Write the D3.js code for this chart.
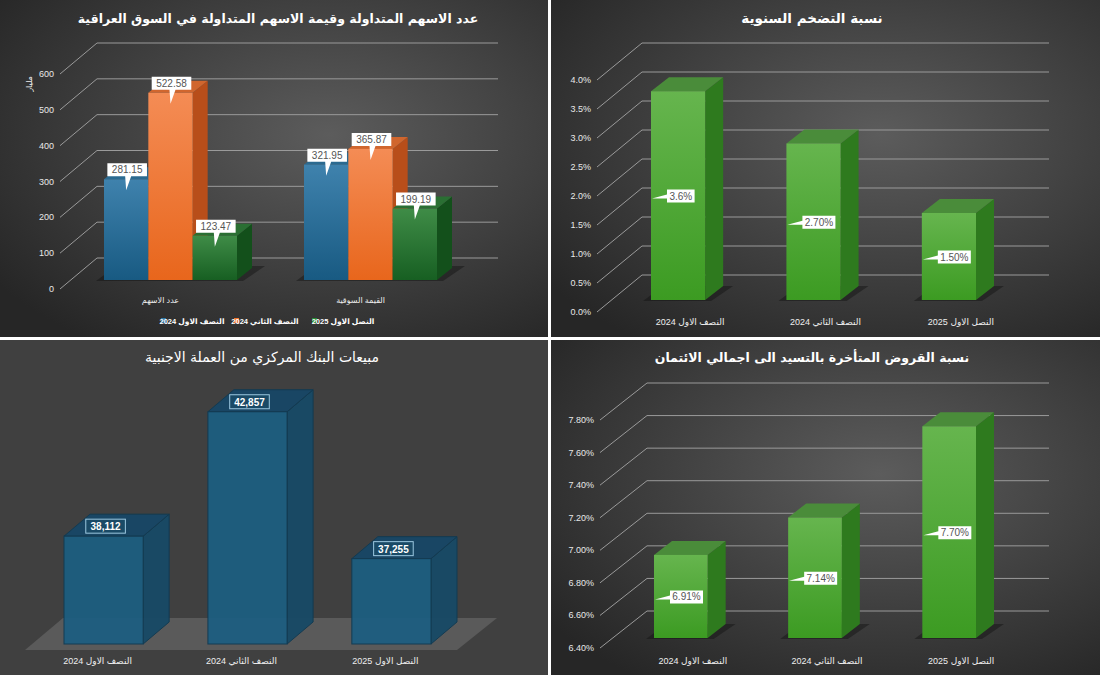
<!DOCTYPE html>
<html><head><meta charset="utf-8">
<script src="https://cdn.jsdelivr.net/npm/d3@7"></script>
<style>body{margin:0;background:#fff}svg{display:block}text{font-family:"Liberation Sans","DejaVu Sans",sans-serif}</style>
</head><body><svg id="c" width="1100" height="675"></svg>
<script>
// data
var cats=["النصف الاول 2024","النصف الثاني 2024","النصل الاول 2025"];
var stockGroups=["عدد الاسهم","القيمة السوقية"];
var stockH1_2024=[281.15,321.95];
var stockH2_2024=[522.58,365.87];
var stockH1_2025=[123.47,199.19];
var stockTicks=[0,100,200,300,400,500,600];
var inflation=[3.6,2.70,1.50];
var inflationLabels=["3.6%","2.70%","1.50%"];
var inflationTicks=[0,0.5,1,1.5,2,2.5,3,3.5,4];
var fxSales=[38112,42857,37255];
var loans=[6.91,7.14,7.70];
var loansTicks=[6.4,6.6,6.8,7.0,7.2,7.4,7.6,7.8];

var svg=d3.select("#c");
var defs=svg.append("defs");
var rg=defs.append("radialGradient").attr("id","bg").attr("cx","60%").attr("cy","40%").attr("r","75%");
rg.append("stop").attr("offset","0").attr("stop-color","#5c5c5c");
rg.append("stop").attr("offset","1").attr("stop-color","#262626");
function grad(id,a,b){var g=defs.append("linearGradient").attr("id",id).attr("x1",0).attr("x2",0).attr("y1",0).attr("y2",1);
 g.append("stop").attr("offset",0).attr("stop-color",a);g.append("stop").attr("offset",1).attr("stop-color",b);}
grad("gBlue","#3f82ad","#185a82");grad("gOrange","#f48c55","#e8661c");grad("gDGreen","#3f8c47","#175f22");grad("gGreen","#66b54e","#3c9b22");
var pal={blue:{f:"url(#gBlue)",s:"#1a4f70",t:"#2b6a90"},orange:{f:"url(#gOrange)",s:"#b84e1a",t:"#d0662e"},
 dgreen:{f:"url(#gDGreen)",s:"#13501b",t:"#2a6f33"},green:{f:"url(#gGreen)",s:"#2e7a1e",t:"#4a8c3a"}};

// panels
svg.append("rect").attr("x",0).attr("y",0).attr("width",548).attr("height",337).attr("fill","url(#bg)");
svg.append("rect").attr("x",551).attr("y",0).attr("width",549).attr("height",337).attr("fill","url(#bg)");
svg.append("rect").attr("x",0).attr("y",340).attr("width",548).attr("height",335).attr("fill","#404040");
svg.append("rect").attr("x",551).attr("y",340).attr("width",549).attr("height",335).attr("fill","url(#bg)");

function title(x,y,t,bold,size){svg.append("text").attr("x",x).attr("y",y).attr("text-anchor","middle").attr("direction","rtl")
 .attr("fill","#fff").attr("font-size",size).attr("font-weight",bold?"bold":"normal").style("font-family","DejaVu Sans").text(t);}

function backGrid(ticks,y,ax,dx,dy,right,fmt){
 ticks.forEach(function(v){var yy=y(v);
  svg.append("path").attr("d","M"+ax+","+yy+"L"+(ax+dx)+","+(yy+dy)+"L"+right+","+(yy+dy)).attr("fill","none").attr("stroke","#9a9a9a").attr("stroke-width",1);
  svg.append("text").attr("x",ax-6).attr("y",yy+3).attr("text-anchor","end").attr("fill","#e8e8e8").attr("font-size",9).text(fmt(v));});
}
function bar3d(x,w,yTop,yBase,dx,dy,c,stroke){
 var g=svg.append("g");
 g.append("path").attr("d","M"+(x+w)+","+yBase+"L"+(x+w+dx)+","+(yBase+dy)+"L"+(x+w+dx)+","+(yTop+dy)+"L"+(x+w)+","+yTop+"Z").attr("fill",c.s).attr("stroke",stroke||"none");
 g.append("path").attr("d","M"+x+","+yTop+"L"+(x+dx)+","+(yTop+dy)+"L"+(x+w+dx)+","+(yTop+dy)+"L"+(x+w)+","+yTop+"Z").attr("fill",c.t).attr("stroke",stroke||"none");
 g.append("rect").attr("x",x).attr("y",yTop).attr("width",w).attr("height",yBase-yTop).attr("fill",c.f).attr("stroke",stroke||"none");
 return g;
}
function shadow(x,w,y){svg.append("path").attr("d","M"+(x-8)+","+(y+1)+"L"+(x+w+6)+","+(y+1)+"L"+(x+w+28)+","+(y-14)+"L"+(x+12)+","+(y-14)+"Z").attr("fill","#111").attr("opacity",0.45);}
function catLabel(x,y,t,size){svg.append("text").attr("x",x).attr("y",y).attr("text-anchor","middle").attr("direction","rtl").attr("fill","#eee").attr("font-size",size||9).text(t);}
function calloutDown(cx,top,t){var w=t.length*5.6+6,h=13,bx=cx-w/2,by=top-16;
 svg.append("path").attr("d","M"+bx+","+by+"h"+w+"v"+h+"h"+(-w/2+4)+"l-5,"+14+"l-1,-14H"+bx+"Z").attr("fill","#fff");
 svg.append("text").attr("x",cx).attr("y",by+10).attr("text-anchor","middle").attr("fill","#555").attr("font-size",10).text(t);}
function calloutLeft(x,cy,t){var w=t.length*5.4+6,h=13,bx=x+16,by=cy-6;
 svg.append("path").attr("d","M"+bx+","+by+"h"+w+"v"+h+"h"+(-w)+"v-4L"+(x+1)+","+(cy+3)+"L"+bx+","+(cy-1)+"Z").attr("fill","#fff");
 svg.append("text").attr("x",bx+w/2).attr("y",by+10).attr("text-anchor","middle").attr("fill","#555").attr("font-size",10).text(t);}

// Panel 1
title(278,23,"عدد الاسهم المتداولة وقيمة الاسهم المتداولة في السوق العراقية",true,12.5);
var y1=d3.scaleLinear().domain([0,600]).range([289,74]);
backGrid(stockTicks,y1,60,37,-31,498,function(v){return v;});
svg.append("text").attr("transform","translate(32,84) rotate(-90)").attr("text-anchor","middle").attr("fill","#eee").attr("font-size",8).text("مليار");
var x1=d3.scaleBand().domain(stockGroups).range([104,437]).paddingInner(0.335).paddingOuter(0);
var series1=[stockH1_2024,stockH2_2024,stockH1_2025],cols1=[pal.blue,pal.orange,pal.dgreen];
stockGroups.forEach(function(gname,i){
 var gx=x1(gname),bw=x1.bandwidth()/3;shadow(gx,bw*3,280);
 series1.forEach(function(s,j){var bx=gx+j*bw;bar3d(bx,bw,y1(s[i])-9,280,15,-12,cols1[j]);});
 series1.forEach(function(s,j){var bx=gx+j*bw;calloutDown(bx+bw/2+1,y1(s[i])-9,s[i].toFixed(2));});
 catLabel(gx+bw*1.5-10,303,gname,8);
});
var leg=[{t:cats[0],c:"#2e78a8",x:192},{t:cats[1],c:"#ef7530",x:265},{t:cats[2],c:"#2a8a35",x:343}];
leg.forEach(function(l){svg.append("rect").attr("x",l.x-31).attr("y",318).attr("width",5).attr("height",5).attr("fill",l.c);
 svg.append("text").attr("x",l.x).attr("y",324).attr("text-anchor","middle").attr("direction","rtl").attr("fill","#fff").attr("font-size",7.5).attr("font-weight","bold").text(l.t);});

// Panel 2
title(812,23,"نسبة التضخم السنوية",true,13.5);
var y2=d3.scaleLinear().domain([0,4]).range([312,80]);
backGrid(inflationTicks,y2,597,45,-37,1049,function(v){return v.toFixed(1)+"%";});
var x2=d3.scaleBand().domain(cats).range([651,976]).paddingInner(0.6).paddingOuter(0);
cats.forEach(function(c,i){var bx=x2(c),bw=x2.bandwidth();shadow(bx,bw,300);
 bar3d(bx,bw,y2(inflation[i])-12,300,18,-14,pal.green);
 calloutLeft(bx,(y2(inflation[i])-12+300)/2,inflationLabels[i]);
 catLabel(bx+bw/2+12,325,c,9);});

// Panel 3
title(262,362,"مبيعات البنك المركزي من العملة الاجنبية",false,14);
svg.append("path").attr("d","M25,650L457,650L497,618L63,618Z").attr("fill","#5a5a5a");
var y3=d3.scaleLinear().domain([34000,43000]).range([644,408]);
var x3=d3.scaleBand().domain(cats).range([64,431]).paddingInner(0.45).paddingOuter(0);
var blueT={f:"#1d5e80",s:"#174a66",t:"#174766"};
cats.forEach(function(c,i){var bx=x3(c),bw=x3.bandwidth(),top=y3(fxSales[i]);
 bar3d(bx,bw,top,644,26,-22,blueT,"#113a52").attr("opacity",0.95);
 var t=d3.format(",")(fxSales[i]),w=t.length*5.6+6;
 svg.append("rect").attr("x",bx+bw/2-w/2+2).attr("y",top-17).attr("width",w).attr("height",14).attr("fill","#1a4a66").attr("stroke","#9cc8e0").attr("stroke-width",1);
 svg.append("text").attr("x",bx+bw/2+2).attr("y",top-6).attr("text-anchor","middle").attr("fill","#fff").attr("font-size",10).attr("font-weight","bold").text(t);
 catLabel(bx+bw/2-6,664,c,9);});

// Panel 4
title(812,362,"نسبة القروض المتأخرة بالتسيد الى اجمالي الائتمان",true,12.5);
var y4=d3.scaleLinear().domain([6.4,7.8]).range([648,420]);
backGrid(loansTicks,y4,600,47,-37,1049,function(v){return v.toFixed(2)+"%";});
var x4=d3.scaleBand().domain(cats).range([654,976]).paddingInner(0.6).paddingOuter(0);
cats.forEach(function(c,i){var bx=x4(c),bw=x4.bandwidth();shadow(bx,bw,638);
 bar3d(bx,bw,y4(loans[i])-10,638,18,-14,pal.green);
 calloutLeft(bx,(y4(loans[i])-10+638)/2,loans[i].toFixed(2)+"%");
 catLabel(bx+bw/2+12,664,c,9);});
</script></body></html>
